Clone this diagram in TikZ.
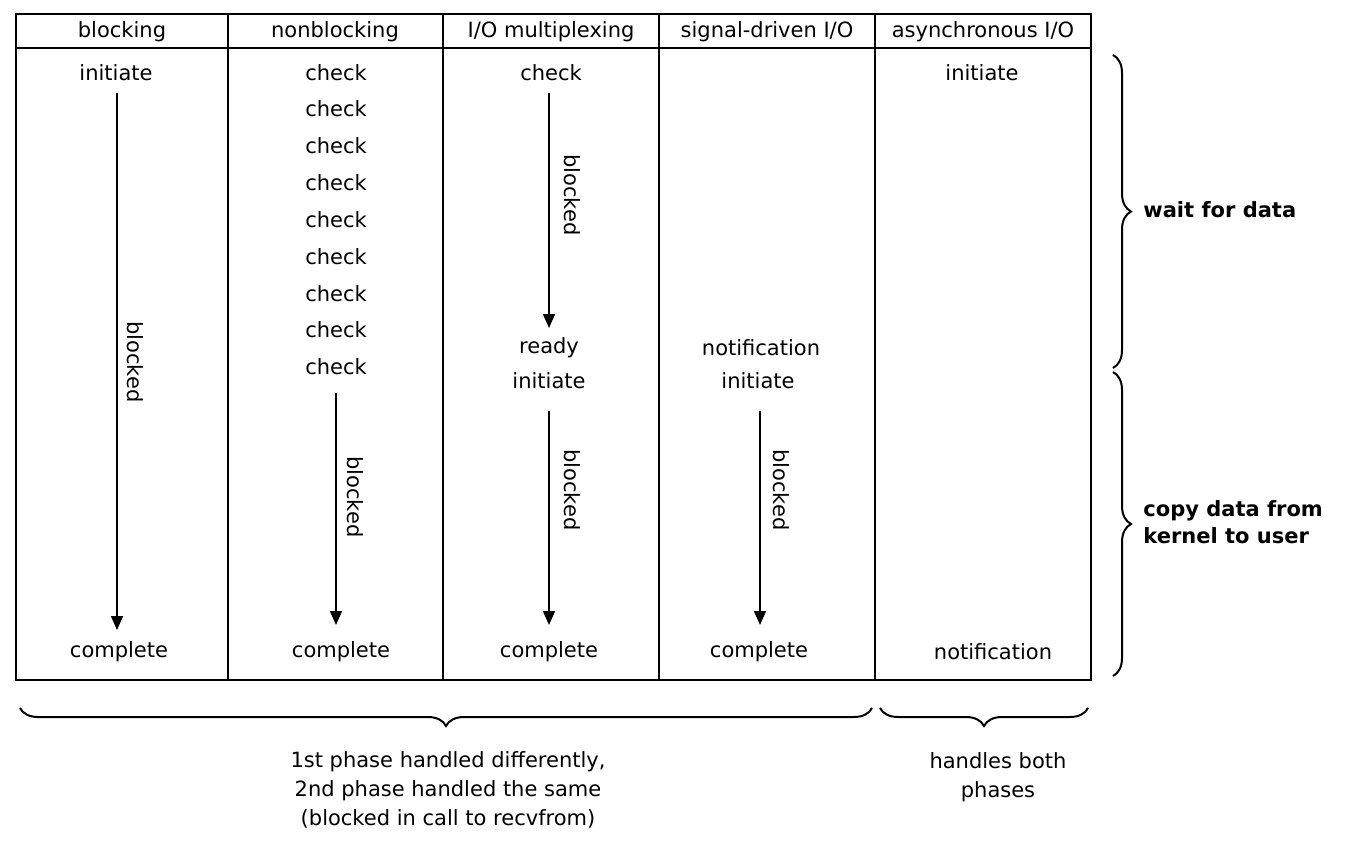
\documentclass[tikz,border=0pt]{standalone}
\usepackage{fontspec}
\setmainfont{DejaVu Sans}
\usetikzlibrary{decorations.pathreplacing,arrows.meta}
\begin{document}
\begin{tikzpicture}[x=0.5pt,y=-0.5pt,
  t/.style={font=\fontsize{10.5}{13.5}\selectfont,inner sep=0pt},
  bl/.style={t,rotate=-90},
  arr/.style={-{Triangle[length=7pt,width=6pt]},line width=0.8pt},
  br/.style={decorate,decoration={brace,amplitude=9pt},line width=1pt},
  lb/.style={t,font=\fontsize{10.5}{13.5}\selectfont\bfseries,align=left,anchor=west}]
\useasboundingbox (0,0) rectangle (1358,846);
\draw[line width=0.8pt] (16,14) rectangle (1091,680);
\draw[line width=0.8pt] (16,48) -- (1091,48);
\foreach \x in {228,443,659,875} \draw[line width=0.8pt] (\x,14) -- (\x,680);
\node[t] (h1) at (122,32) {blocking};
\node[t] (h2) at (335,32) {nonblocking};
\node[t] (h3) at (551,32) {I/O multiplexing};
\node[t] (h4) at (767,32) {signal-driven I/O};
\node[t] (h5) at (983,32) {asynchronous I/O};
% col1
\node[t] (a1) at (116,73) {initiate};
\node[t] (a2) at (119,652) {complete};
\coordinate (a1s) at (117,93); \coordinate (a1e) at (117,630);
\draw[arr] (a1s) -- (a1e);
\node[bl] (ab) at (135,362) {blocked};
% col2
\foreach \y [count=\i] in {73,109,146,183,220,257,294,330,367}
  \node[t] (c\i) at (336,\y) {check};
\coordinate (b1s) at (336,393); \coordinate (b1e) at (336,625);
\draw[arr] (b1s) -- (b1e);
\node[bl] (bb) at (355,497) {blocked};
\node[t] (b2) at (341,652) {complete};
% col3
\node[t] (m1) at (551,73) {check};
\coordinate (m1s) at (549,93); \coordinate (m1e) at (549,328);
\draw[arr] (m1s) -- (m1e);
\node[bl] (mb1) at (572,195) {blocked};
\node[t] (m2) at (549,348) {ready};
\node[t] (m3) at (549,381) {initiate};
\coordinate (m2s) at (549,411); \coordinate (m2e) at (549,625);
\draw[arr] (m2s) -- (m2e);
\node[bl] (mb2) at (572,490) {blocked};
\node[t] (m4) at (549,652) {complete};
% col4
\node[t] (s1) at (761,348) {notification};
\node[t] (s2) at (758,381) {initiate};
\coordinate (s1s) at (760,411); \coordinate (s1e) at (760,625);
\draw[arr] (s1s) -- (s1e);
\node[bl] (sb) at (781,490) {blocked};
\node[t] (s3) at (759,652) {complete};
% col5
\node[t] (y1) at (982,73) {initiate};
\node[t] (y2) at (993,652) {notification};
% braces
\coordinate (r1a) at (1113,55); \coordinate (r1b) at (1113,368);
\coordinate (r2a) at (1113,372); \coordinate (r2b) at (1113,676);
\draw[br] (r1a) -- (r1b);
\draw[br] (r2a) -- (r2b);
\node[lb] (w) at (1143,210) {wait for data};
\node[lb] (k) at (1143,522) {copy data from\\kernel to user};
\coordinate (q1a) at (20,708); \coordinate (q1b) at (872,708);
\coordinate (q2a) at (880,708); \coordinate (q2b) at (1088,708);
\draw[br] (q1b) -- (q1a);
\draw[br] (q2b) -- (q2a);
\node[t,align=center] (p1) at (448,790) {1st phase handled differently,\\[1pt]2nd phase handled the same\\[1pt](blocked in call to recvfrom)};
\node[t,align=center] (p2) at (998,777) {handles both\\[1pt]phases};
\end{tikzpicture}
\end{document}
